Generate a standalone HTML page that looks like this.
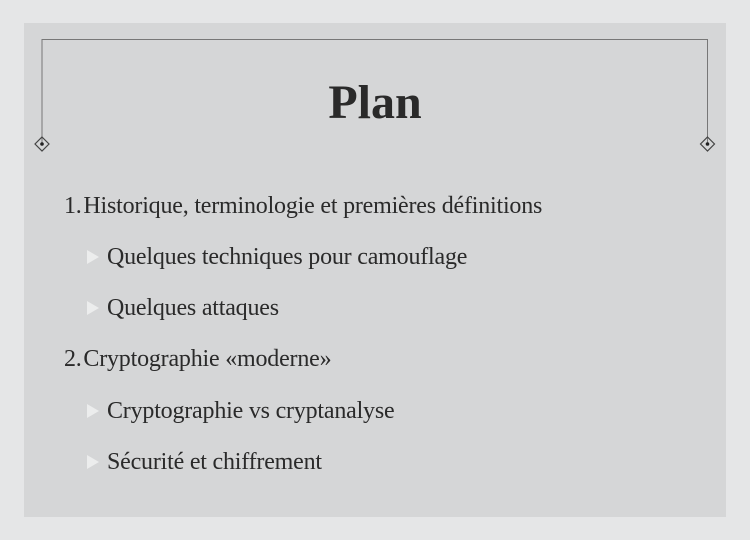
<!DOCTYPE html>
<html><head><meta charset="utf-8"><style>
body{margin:0;width:750px;height:540px;background:#e5e6e7;position:relative;overflow:hidden;font-family:"Liberation Serif",serif;color:#2a2a2a}
.panel{position:absolute;left:24px;top:23px;width:702px;height:494px;background:#d5d6d7}
.t{position:absolute;font-size:24px;letter-spacing:-0.2px;white-space:nowrap;line-height:1}
.tri{position:absolute;width:0;height:0;border-left:12px solid #eceded;border-top:7px solid transparent;border-bottom:7px solid transparent}
</style></head><body>
<div class="panel"></div>
<svg width="750" height="540" style="position:absolute;left:0;top:0">
<polyline points="42,144 42,39.5 707.5,39.5 707.5,144" fill="none" stroke="#777" stroke-width="1"/>
<polygon points="42,137 49,144 42,151 35,144" fill="none" stroke="#444" stroke-width="1.2"/>
<circle cx="42" cy="144" r="1.8" fill="#222"/>
<polygon points="707.5,137 714.5,144 707.5,151 700.5,144" fill="none" stroke="#444" stroke-width="1.2"/>
<circle cx="707.5" cy="144" r="1.8" fill="#222"/>
</svg>
<div class="t" style="left:0;width:750px;text-align:center;top:79px;font-size:48px;font-weight:bold;letter-spacing:0">Plan</div>
<div class="t" style="left:64px;top:194px">1.&#8202;Historique, terminologie et premières définitions</div>
<div class="tri" style="left:87px;top:250px"></div>
<div class="t" style="left:107px;top:245px">Quelques techniques pour camouflage</div>
<div class="tri" style="left:87px;top:301px"></div>
<div class="t" style="left:107px;top:296px">Quelques attaques</div>
<div class="t" style="left:64px;top:347px">2.&#8202;Cryptographie «moderne»</div>
<div class="tri" style="left:87px;top:404px"></div>
<div class="t" style="left:107px;top:399px">Cryptographie vs cryptanalyse</div>
<div class="tri" style="left:87px;top:455px"></div>
<div class="t" style="left:107px;top:450px">Sécurité et chiffrement</div>
</body></html>
